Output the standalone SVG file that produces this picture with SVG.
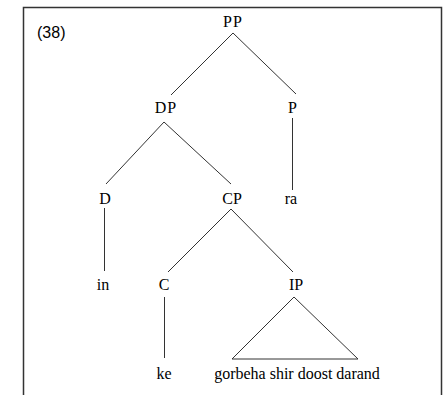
<svg xmlns="http://www.w3.org/2000/svg" width="448" height="395" viewBox="0 0 448 395">
<style>
.t{font-family:"Liberation Serif","Times New Roman",serif;font-size:16px;fill:#000;text-anchor:middle}
.m{font-family:"Liberation Serif","Times New Roman",serif;font-size:16px;fill:#000;text-anchor:middle;letter-spacing:1px}
.e{stroke:#333;stroke-width:1;fill:none}
</style>
<rect width="448" height="395" fill="#fff"/>
<path d="M23.5,395 V7.5 H441.5 V395" fill="none" stroke="#333" stroke-width="1.5"/>
<text x="37" y="38" font-family="Liberation Sans, Arial, sans-serif" font-size="16">(38)</text>
<g id="connectors">
<line class="e" x1="233" y1="33" x2="171" y2="95"/>
<line class="e" x1="233" y1="33" x2="296" y2="94"/>
<line class="e" x1="164" y1="122" x2="106" y2="184"/>
<line class="e" x1="164" y1="122" x2="231" y2="184"/>
<line class="e" x1="292.5" y1="118" x2="292.5" y2="190"/>
<line class="e" x1="104.5" y1="208" x2="104.5" y2="271"/>
<line class="e" x1="231" y1="209" x2="168" y2="272"/>
<line class="e" x1="231" y1="209" x2="293" y2="272"/>
<line class="e" x1="164.5" y1="297" x2="164.5" y2="358"/>
</g>
<g id="PP"><text class="m" x="233" y="27">PP</text></g>
<g id="DP"><text class="m" x="166" y="113">DP</text></g>
<g id="P"><text class="m" x="293" y="113">P</text></g>
<g id="D"><text class="t" x="105" y="204">D</text></g>
<g id="CP"><text class="t" x="232" y="204">CP</text></g>
<g id="ra"><text class="t" x="291" y="204">ra</text></g>
<g id="in"><text class="t" x="103" y="290">in</text></g>
<g id="C"><text class="t" x="164" y="290">C</text></g>
<g id="IP"><text class="t" x="296" y="290">IP</text><polygon class="e" points="294,297 232,359 358,359"/></g>
<g id="ke"><text class="t" x="164" y="379">ke</text></g>
<g id="words"><text class="t" x="297" y="379">gorbeha shir doost darand</text></g>
</svg>
